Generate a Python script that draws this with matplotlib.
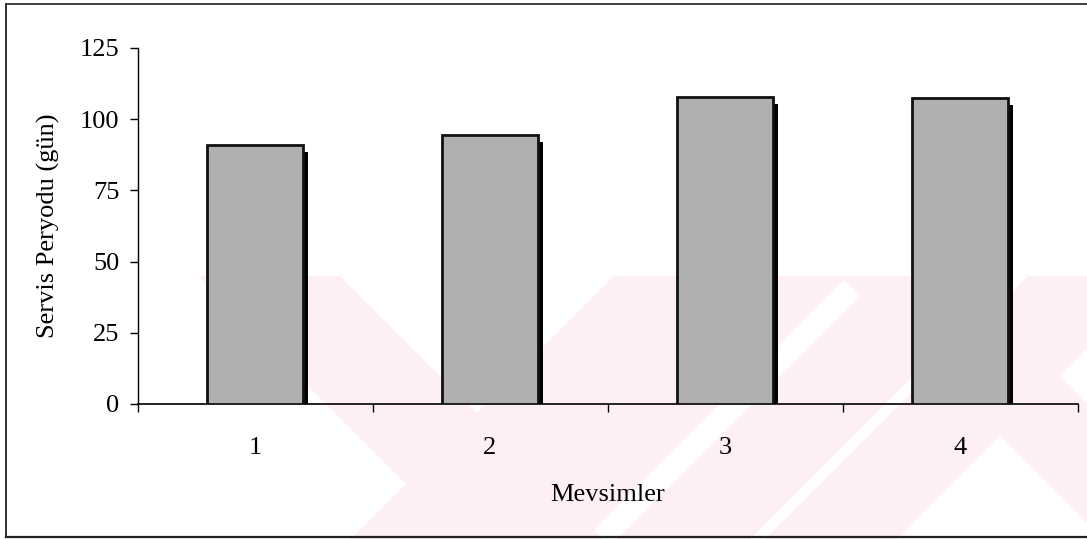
import numpy as np
import matplotlib
matplotlib.use('Agg')
import matplotlib.pyplot as plt
from matplotlib.patches import Polygon, Rectangle

plt.rcParams['font.family'] = ['Liberation Serif', 'DejaVu Serif']

# data
seasons = [1, 2, 3, 4]
season_labels = ['1', '2', '3', '4']
service_period = [90.8, 94.5, 107.9, 107.3]

W, H = 1087, 539
fig = plt.figure(figsize=(W / 100., H / 100.), dpi=100)

# faint pink watermark of the scanned page (pixel coords, 45 deg bands)
wm = fig.add_axes([0, 0, 1, 1], zorder=-5)
wm.set_xlim(0, W)
wm.set_ylim(H, 0)
wm.axis('off')
wm_top, wm_bot, wm_left = 276, 539, 198
wm_bands = [('\\', 198, 340), ('/', 614, 848), ('/', 880, 1013),
            ('/', 1028, 1160), ('\\', 840, 960)]
clip = Rectangle((wm_left, wm_top), W - wm_left, wm_bot - wm_top,
                 transform=wm.transData, visible=False)
wm.add_patch(clip)
dy = wm_bot - wm_top
for kind, x0, x1 in wm_bands:
    s = dy if kind == '\\' else -dy
    poly = Polygon([(x0, wm_top), (x1, wm_top), (x1 + s, wm_bot), (x0 + s, wm_bot)],
                   closed=True, fc='#fdeff2', ec='none')
    wm.add_patch(poly)
    poly.set_clip_path(clip)

# page frame (top, left, bottom)
fig.add_artist(plt.Line2D([6 / W, 6 / W], [1 - 4 / H, 1 - 537 / H],
                          transform=fig.transFigure, color='#222222', lw=1.3))
fig.add_artist(plt.Line2D([6 / W, 1], [1 - 4 / H, 1 - 4 / H],
                          transform=fig.transFigure, color='#333333', lw=1.3))
fig.add_artist(plt.Line2D([6 / W, 1], [1 - 537 / H, 1 - 537 / H],
                          transform=fig.transFigure, color='#222222', lw=1.6))

ax = fig.add_axes([137.5 / W, 1 - 404 / H, 940 / W, 356 / H])
ax.patch.set_alpha(0)

x = np.array(seasons, dtype=float)
vals = np.array(service_period)
# drop shadow, then the grey bar
ax.bar(x + 0.022, vals - 2.4, width=0.41, color='black', zorder=2)
ax.bar(x, vals, width=0.41, color='#b0b0b0', edgecolor='#111111',
       linewidth=2.0, zorder=3)

ax.set_xlim(0.5, 4.5)
ax.set_ylim(0, 125)
ax.set_yticks([0, 25, 50, 75, 100, 125])
ax.set_xticks(seasons)
ax.set_xticklabels(season_labels)
ax.set_xticks([0.5, 1.5, 2.5, 3.5, 4.5], minor=True)
ax.tick_params(axis='x', which='major', length=0, pad=24, labelsize=19)
ax.tick_params(axis='x', which='minor', length=6, width=1, direction='out')
ax.tick_params(axis='y', length=6, width=1, pad=7, labelsize=19)
for sp in ['top', 'right']:
    ax.spines[sp].set_visible(False)
ax.spines['left'].set_linewidth(1)
ax.spines['bottom'].set_linewidth(1.2)

ax.set_xlabel('Mevsimler', fontsize=19, labelpad=18)
ax.set_ylabel(u'Servis Peryodu (g\xfcn)', fontsize=19, labelpad=14)

fig.savefig('out.png', dpi=100)
